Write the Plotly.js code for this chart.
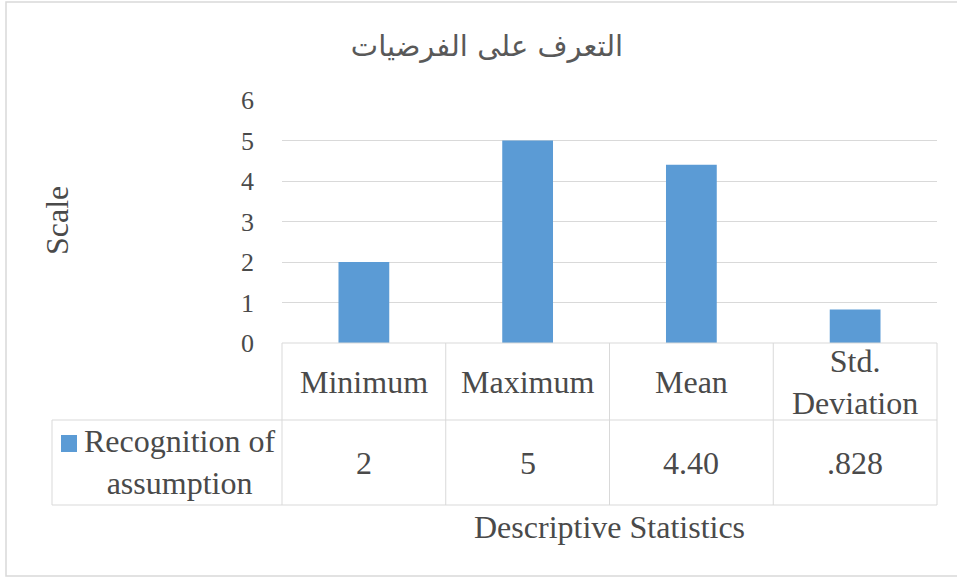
<!DOCTYPE html>
<html>
<head>
<meta charset="utf-8">
<script src="https://cdn.plot.ly/plotly-3.0.1.min.js"></script>
<style>
  html, body { margin: 0; padding: 0; background: #ffffff; overflow: hidden; }
  #chart { width: 957px; height: 578px; }
</style>
</head>
<body>
<div id="chart"></div>
<script>
// Descriptive statistics for the "recognition of assumption" scale
const categories = ['Minimum', 'Maximum', 'Mean', 'Std. Deviation'];
const headerLabels = ['Minimum', 'Maximum', 'Mean', 'Std.<br>Deviation'];
const values = [2, 5, 4.40, 0.828];
const valueLabels = ['2', '5', '4.40', '.828'];
const seriesName = 'Recognition of<br>assumption';
const chartTitle = 'التعرف على الفرضيات';
const yTitle = 'Scale';
const xTitle = 'Descriptive Statistics';
const yTicks = [0, 1, 2, 3, 4, 5, 6];

const barColor = '#5b9bd5';
const textColor = '#4a4a4a';
const lineColor = '#d9d9d9';
const serif = 'Liberation Serif';
const fs = 32;

// plot area in pixels: x 282..937, y 100..343
const W = 957, H = 578, L = 282, R = 20, T = 100, B = 235;
const plotW = W - L - R, plotH = H - T - B;
const px = x => (x - L) / plotW;          // pixel x -> paper x
const py = y => (H - B - y) / plotH;      // pixel y -> paper y

const headerY = py(382), valueY = py(463);
const rowTop = 0, rowMid = py(420), rowBot = py(505);
const legendLeft = px(52);

const trace = {
  type: 'bar',
  x: categories,
  y: values,
  name: seriesName.replace('<br>', ' '),
  marker: { color: barColor },
  hoverinfo: 'x+y'
};

const line = (x0, y0, x1, y1) => ({
  type: 'line', xref: 'paper', yref: 'paper',
  x0, y0, x1, y1, line: { color: lineColor, width: 1 }
});

const shapes = [
  // chart frame (right side runs past the page edge)
  { type: 'rect', xref: 'paper', yref: 'paper',
    x0: px(6), x1: px(962), y0: py(2), y1: py(576),
    line: { color: lineColor, width: 1.5 }, layer: 'below' },
  // data table grid
  line(0, rowTop, 1, rowTop),
  line(legendLeft, rowMid, 1, rowMid),
  line(legendLeft, rowBot, 1, rowBot),
  line(legendLeft, rowMid, legendLeft, rowBot),
  // legend key
  { type: 'rect', xref: 'paper', yref: 'paper',
    x0: px(61), x1: px(77), y0: py(435), y1: py(452),
    fillcolor: barColor, line: { width: 0 } }
];
for (let i = 0; i <= categories.length; i++) {
  shapes.push(line(i / categories.length, rowTop, i / categories.length, rowBot));
}

const tableFont = () => ({ family: serif, size: fs, color: textColor });

const annotations = [];
categories.forEach((c, i) => {
  annotations.push({
    x: c, xref: 'x', y: headerY, yref: 'paper',
    text: headerLabels[i], showarrow: false,
    xanchor: 'center', yanchor: 'middle',
    font: tableFont()
  });
  annotations.push({
    x: c, xref: 'x', y: valueY, yref: 'paper',
    text: valueLabels[i], showarrow: false,
    xanchor: 'center', yanchor: 'middle',
    font: tableFont()
  });
});
annotations.push({
  x: px(179), xref: 'paper', y: py(462), yref: 'paper',
  text: seriesName, showarrow: false, align: 'center',
  xanchor: 'center', yanchor: 'middle',
  font: tableFont()
});
annotations.push({
  x: 0.5, xref: 'paper', y: py(527), yref: 'paper',
  text: xTitle, showarrow: false,
  xanchor: 'center', yanchor: 'middle',
  font: tableFont()
});
annotations.push({
  x: px(57), xref: 'paper', y: py(221), yref: 'paper',
  text: yTitle, showarrow: false, textangle: -90,
  xanchor: 'center', yanchor: 'middle',
  font: tableFont()
});

const layout = {
  width: W, height: H,
  margin: { l: L, r: R, t: T, b: B },
  paper_bgcolor: '#ffffff', plot_bgcolor: '#ffffff',
  font: { family: serif, size: fs, color: textColor },
  showlegend: false,
  bargap: 0.69,
  title: {
    text: chartTitle,
    x: 487 / W, xanchor: 'center',
    y: 1 - 46 / H, yanchor: 'middle',
    font: { family: 'DejaVu Sans', size: 29, color: '#595959' }
  },
  xaxis: {
    type: 'category',
    showticklabels: false,
    showgrid: false, zeroline: false, showline: false,
    ticks: ''
  },
  yaxis: {
    range: [0, 6],
    tickvals: yTicks,
    ticktext: yTicks.map(String),
    showgrid: true, gridcolor: lineColor, gridwidth: 1,
    zeroline: false, showline: false, ticks: '',
    ticklabelstandoff: 27,
    tickfont: { family: serif, size: 26, color: textColor }
  },
  shapes, annotations
};

Plotly.newPlot('chart', [trace], layout, { displayModeBar: false, staticPlot: true });
</script>
</body>
</html>
